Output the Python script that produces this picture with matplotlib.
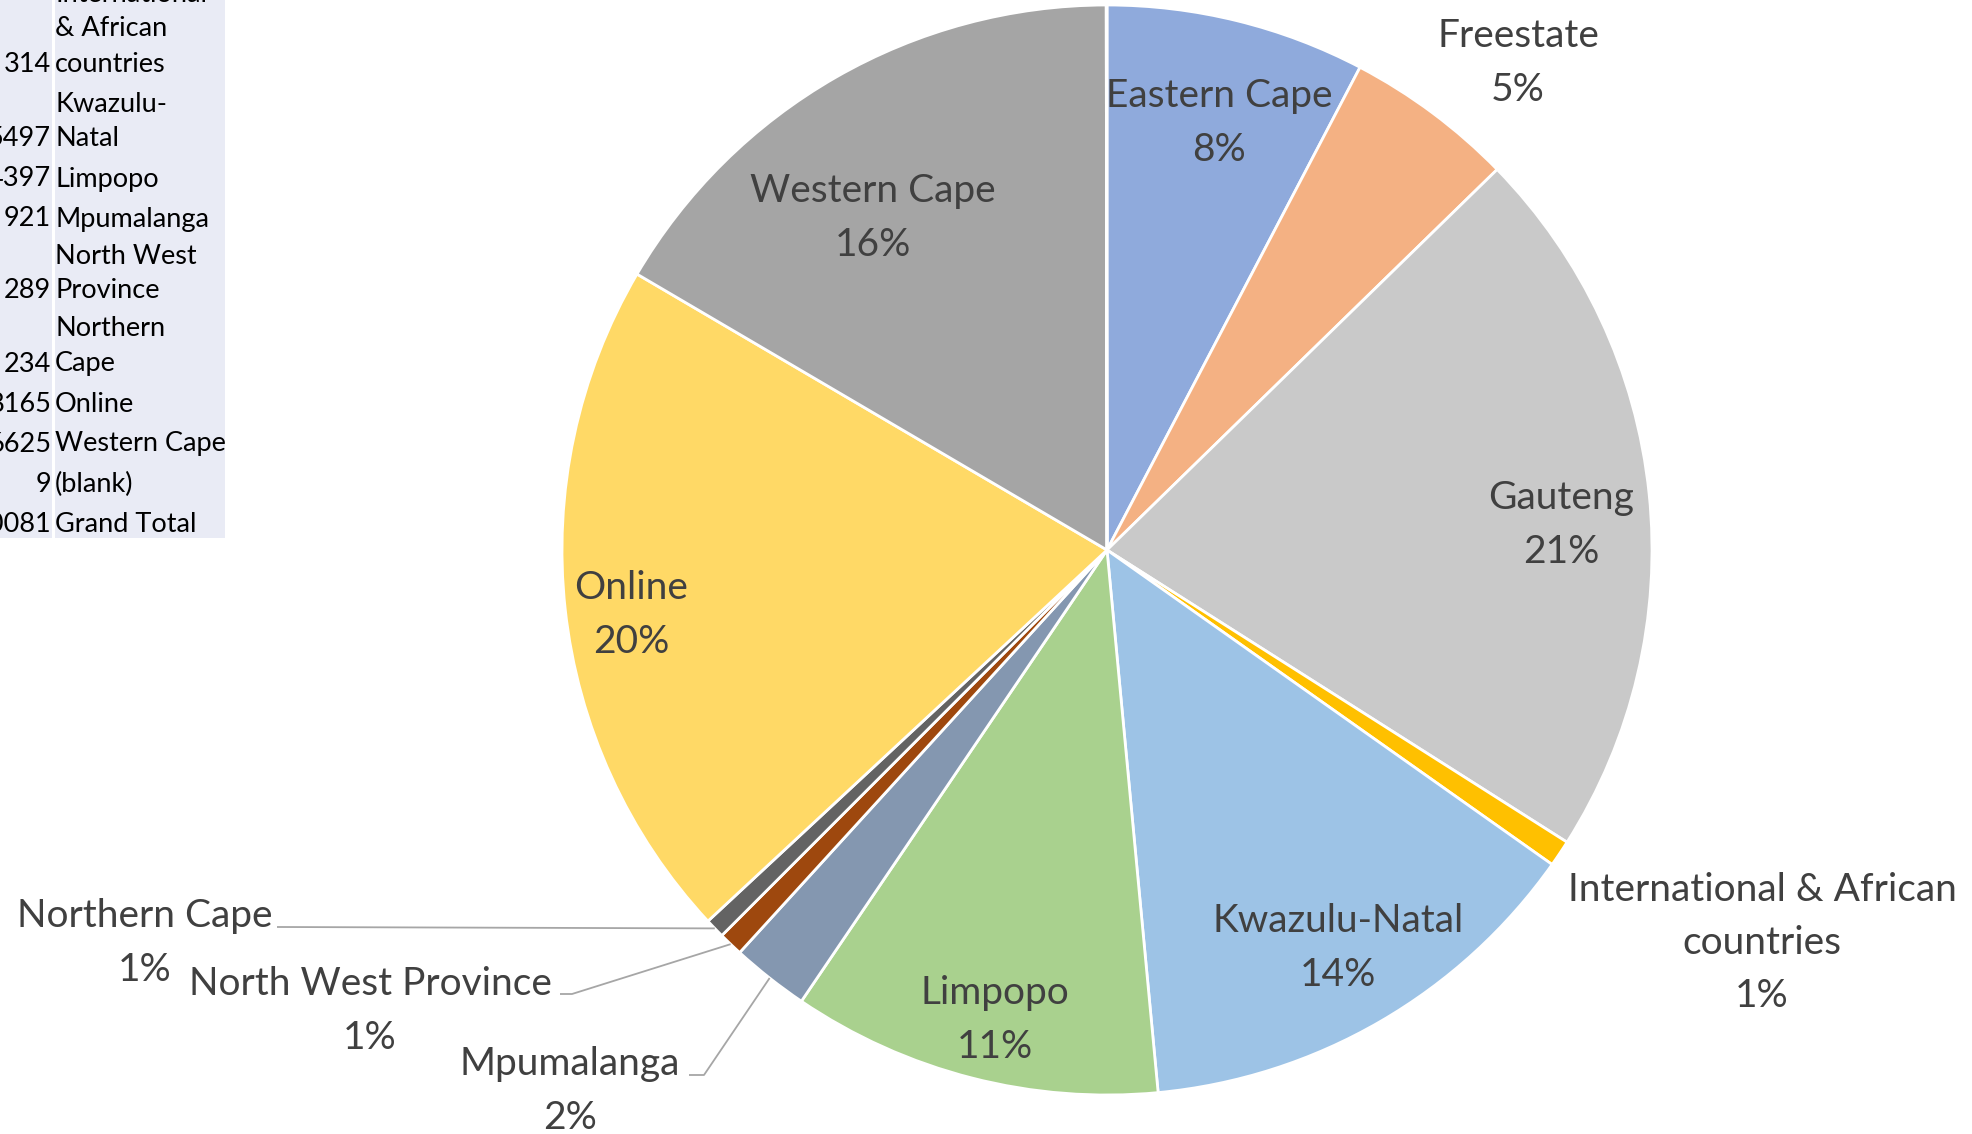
import matplotlib
matplotlib.use("Agg")
import matplotlib.pyplot as plt
from matplotlib.patches import Rectangle
import numpy as np

# ---------------- data ----------------
categories = ["Eastern Cape", "Freestate", "Gauteng", "International & African\ncountries",
              "Kwazulu-Natal", "Limpopo", "Mpumalanga", "North West Province",
              "Northern Cape", "Online", "Western Cape", "(blank)"]
values = [3080, 2010, 8540, 314, 5497, 4397, 921, 289, 234, 8165, 6625, 9]
pct_labels = ["8%", "5%", "21%", "1%", "14%", "11%", "2%", "1%", "1%", "20%", "16%", ""]
colors = ["#8FAADC", "#F4B183", "#C9C9C9", "#FFC000", "#9DC3E6", "#A9D18E",
          "#8497B0", "#9E480E", "#636363", "#FFD966", "#A5A5A5", "#7F7F7F"]

table_values = ["314", "5497", "4397", "921", "289", "234", "8165", "6625", "9", "40081"]
table_labels = [["International", "& African", "countries"], ["Kwazulu-", "Natal"], ["Limpopo"],
                ["Mpumalanga"], ["North West", "Province"], ["Northern", "Cape"], ["Online"],
                ["Western Cape"], ["(blank)"], ["Grand Total"]]

# ---------------- layout ----------------
W, H = 1972, 1134
CX, CY, R = 1107, 550, 545          # pie centre / radius in pixels
FONT = "Lato"
TXT = "#404040"

fig = plt.figure(figsize=(W / 100, H / 100), dpi=100)
fig.patch.set_facecolor("white")

# table axes in pixel coordinates
tax = fig.add_axes([0, 0, 1, 1])
tax.set_xlim(0, W)
tax.set_ylim(H, 0)
tax.axis("off")

row_bottoms = [78, 153, 193, 233, 305, 378, 418, 458, 498, 538]
line_h = 35
pad = 7
cell_col = "#E9EBF5"
for vals, labs, bot in zip(table_values, table_labels, row_bottoms):
    top = bot - (len(labs) * line_h + pad) + 2
    tax.add_patch(Rectangle((-10, top), 62, bot - top, facecolor=cell_col, edgecolor="none"))
    tax.add_patch(Rectangle((55, top), 170, bot - top, facecolor=cell_col, edgecolor="none"))
    n = len(labs)
    for k, t in enumerate(labs):
        yc = bot - 14 - (n - 1 - k) * line_h
        tax.text(55, yc, t, ha="left", va="center", fontsize=19.5, family=FONT, color="black")
    tax.text(51, bot - 14, vals, ha="right", va="center", fontsize=19.5, family=FONT, color="black")

# pie axes: data units = pie radius
ax = fig.add_axes([0, 0, 1, 1])
ax.patch.set_alpha(0)
wedges, _ = ax.pie(values, colors=colors, startangle=90, counterclock=False, radius=1,
                   center=(0, 0), wedgeprops=dict(edgecolor="white", linewidth=2.0))
ax.set_xlim(-CX / R, (W - CX) / R)
ax.set_ylim(-(H - CY) / R, CY / R)
ax.set_aspect("auto")
ax.axis("off")


def px(x, y):
    return ((x - CX) / R, (CY - y) / R)


label_pos = {
    "Eastern Cape": (1219, 123), "Freestate": (1518, 63), "Gauteng": (1561, 525),
    "International & African\ncountries": (1762, 943), "Kwazulu-Natal": (1338, 948),
    "Limpopo": (995, 1020), "Mpumalanga": (570, 1091), "North West Province": (370, 1011),
    "Northern Cape": (145, 943), "Online": (631, 615), "Western Cape": (873, 218),
}
fs = 28
for name, pct in zip(categories, pct_labels):
    if name not in label_pos:
        continue
    x, y = px(*label_pos[name])
    ax.text(x, y, f"{name}\n{pct}", ha="center", va="center", multialignment="center",
            fontsize=fs, family=FONT, color=TXT, linespacing=1.6)

# leader lines for small slices
leaders = {
    "Northern Cape": ((277, 927), 4),
    "North West Province": ((560, 994), 12),
    "Mpumalanga": ((689, 1075), 15),
}
for name, ((sx, sy), stub) in leaders.items():
    w = wedges[categories.index(name)]
    mid = np.deg2rad((w.theta1 + w.theta2) / 2)
    ex, ey = np.cos(mid), np.sin(mid)
    p0 = px(sx, sy)
    p1 = px(sx + stub, sy)
    ax.plot([p0[0], p1[0], ex], [p0[1], p1[1], ey], color="#A6A6A6", lw=1.3,
            solid_capstyle="butt")

fig.savefig("out.png", dpi=100, facecolor="white")
